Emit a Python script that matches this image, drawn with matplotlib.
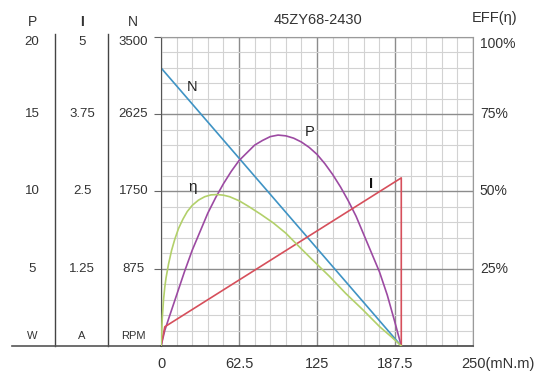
import numpy as np
import matplotlib.pyplot as plt
from matplotlib.ticker import MultipleLocator

plt.rcParams['font.family'] = ['Liberation Sans', 'DejaVu Sans']

# curves (torque in mN.m)
n_torque = [0, 192.5]
n_speed = [3150, 0]

i_torque = [0, 3, 192.5, 192.5]
i_current = [0, 0.31, 2.72, 0]

p_torque = [0, 3, 6.25, 12.5, 18.75, 25, 31.25, 37.5, 43.75, 50, 56.25, 62.5,
            68.75, 75, 81.25, 87.5, 93.75, 100, 106.25, 112.5, 118.75, 125,
            131.25, 137.5, 143.75, 150, 156.25, 162.5, 168.75, 175, 181.25,
            187.5, 192.5]
p_power = [0, 1.0, 1.8, 3.3, 4.8, 6.2, 7.4, 8.6, 9.6, 10.5, 11.3, 12.0,
           12.5, 13.0, 13.3, 13.55, 13.65, 13.6, 13.45, 13.2, 12.85, 12.4,
           11.8, 11.1, 10.3, 9.4, 8.4, 7.2, 6.0, 4.8, 3.3, 1.5, 0]

e_torque = [0, 1, 2, 3, 4, 6, 8.5, 11, 14, 17.5, 21, 25, 30, 35, 40, 45, 50,
            55, 62.5, 70, 80, 90, 100, 110, 121, 135, 148, 162, 175, 185,
            192.5]
e_eff = [0, 9, 15, 19, 22, 26.5, 31, 34.5, 38, 41, 43.5, 45.5, 47.2, 48.3,
         48.9, 49, 48.8, 48.3, 47, 45.2, 42.6, 39.8, 36.5, 32.4, 28, 22.5,
         17, 11.6, 6.3, 2.8, 0]

x_ticks = [0, 62.5, 125, 187.5, 250]
x_labels = ['0', '62.5', '125', '187.5', '']
x_unit = '250(mN.m)'
n_ticks = [875, 1750, 2625, 3500]
n_labels = ['875', '1750', '2625', '3500']
p_labels = ['5', '10', '15', '20']
i_labels = ['1.25', '2.5', '3.75', '5']
eff_labels = ['25%', '50%', '75%', '100%']

txt = '#333333'

fig = plt.figure(figsize=(5.35, 3.72), dpi=100)
ax = fig.add_axes([0.301, 0.07, 0.5832, 0.8306])
ax.set_xlim(0, 250)
ax.set_ylim(0, 3500)

ax.xaxis.set_minor_locator(MultipleLocator(12.5))
ax.yaxis.set_minor_locator(MultipleLocator(175))
ax.set_xticks(x_ticks)
ax.set_xticklabels(x_labels, fontsize=10.5, color=txt)
ax.set_yticks(n_ticks)
ax.set_yticklabels([])
ax.grid(which='minor', color='#d2d2d2', lw=0.8)
ax.grid(which='major', color='#8c8c8c', lw=1.0)
ax.set_axisbelow(True)
ax.tick_params(axis='x', which='both', length=0, pad=8)
ax.tick_params(axis='y', which='minor', length=0)
ax.tick_params(axis='y', which='major', length=5, color='#666666',
               left=True, right=True, direction='out')
for s in ['top', 'right']:
    ax.spines[s].set_color('#9a9a9a')
ax.spines['left'].set_color('#555555')
ax.spines['bottom'].set_color('#444444')
ax.spines['bottom'].set_linewidth(1.2)
ax.text(0.962, -0.057, x_unit, transform=ax.transAxes, fontsize=10.5,
        color=txt, ha='left', va='center', clip_on=False)

# twin axes for the other quantities
ax_p = ax.twinx()
ax_p.set_ylim(0, 20)
ax_i = ax.twinx()
ax_i.set_ylim(0, 5)
ax_e = ax.twinx()
ax_e.set_ylim(0, 100)
for a in (ax_p, ax_i, ax_e):
    a.set_yticks([])
    for s in a.spines.values():
        s.set_visible(False)

ax.plot(n_torque, n_speed, color='#3f93c4', lw=1.2)
ax_p.plot(p_torque, p_power, color='#9c4aa2', lw=1.2)
ax_i.plot(i_torque, i_current, color='#d64f5b', lw=1.2)
ax_e.plot(e_torque, e_eff, color='#b2d06a', lw=1.2)

# curve names
ax.text(25, 2930, 'N', fontsize=10.5, color='#222222', ha='center', va='center')
ax.text(119, 2420, 'P', fontsize=10.5, color='#222222', ha='center', va='center')
ax.text(25, 1800, 'η', fontsize=11, color='#222222', ha='center', va='center')
ax.text(168, 1830, 'I', fontsize=10.5, fontweight='bold', color='#111111',
        ha='center', va='center')

# left scale columns
tr = ax.get_yaxis_transform()
col_x = [-0.413, -0.253, -0.089]
for cx, labels in zip(col_x, [p_labels, i_labels, n_labels]):
    for v, lab in zip(n_ticks, labels):
        y = v - 60 if v == 3500 else v
        ax.text(cx, y, lab, transform=tr, fontsize=9.5, color=txt,
                ha='center', va='center', clip_on=False)
for cx, lab in zip(col_x, ['W', 'A', 'RPM']):
    ax.text(cx, 110, lab, transform=tr, fontsize=8, color=txt,
            ha='center', va='center', clip_on=False)
for cx, lab, fw in zip(col_x, ['P', 'I', 'N'], ['normal', 'bold', 'normal']):
    ax.text(cx, 1.05, lab, transform=ax.transAxes, fontsize=10,
            fontweight=fw, color=txt, ha='center', va='center')
for sx in [-0.340, -0.170]:
    ax.plot([sx, sx], [0, 3530], transform=tr, color='#444444', lw=1.0,
            clip_on=False)
ax.plot([-0.478, 0], [0, 0], transform=tr, color='#555555', lw=1.2,
        clip_on=False)

# right efficiency scale
for v, lab in zip(n_ticks, eff_labels):
    y = v - 80 if v == 3500 else v
    ax.text(1.022, y, lab, transform=tr, fontsize=10, color=txt,
            ha='left', va='center', clip_on=False)

ax.text(0.503, 1.056, '45ZY68-2430', transform=ax.transAxes, fontsize=10.5,
        color=txt, ha='center', va='center')
ax.text(1.069, 1.06, 'EFF(η)', transform=ax.transAxes, fontsize=10.5,
        color=txt, ha='center', va='center')

fig.savefig('out.png', dpi=100)
